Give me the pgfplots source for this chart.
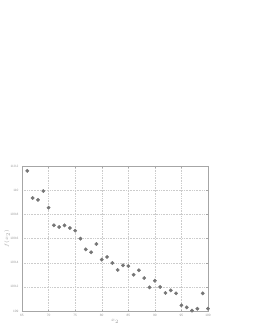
\documentclass[border=0pt]{standalone}
\usepackage{pgfplots}
\pgfplotsset{compat=1.18}
\usepackage{fontspec}
\setmainfont{Liberation Sans}
\begin{document}
\begin{tikzpicture}[x=1pt,y=1pt]
\begin{axis}[
  at={(0,0)}, anchor=south west,
  scale only axis, width=186pt, height=145pt,
  xmin=65, xmax=100, ymin=109, ymax=110.2,
  xtick={65,70,...,100},
  ytick={109,109.2,109.4,109.6,109.8,110,110.2},
  yticklabels={109,109.2,109.4,109.6,109.8,110,110.2},
  grid=major,
  major grid style={gray!40, dash pattern=on 1pt off 1pt on 0.3pt off 1pt, line width=0.3pt},
  axis line style={gray!70, line width=0.4pt},
  tick style={gray!70, line width=0.3pt},
  tick align=inside, major tick length=1.5pt,
  ticklabel style={font=\fontsize{3.2}{3.5}\selectfont, text=gray!80},
  /pgf/number format/assume math mode=true,
  xlabel={$x_2$}, ylabel={$f(x_2)$},
  label style={font=\fontsize{4}{4.5}\selectfont, text=gray!80},
  xlabel style={yshift=4pt},
  ylabel style={yshift=-6pt},
  clip=false,
]
\addplot[only marks, mark=*, mark size=1.7pt, mark options={fill=gray!65!black!80, draw=gray!65!black!80}] coordinates {
(66,110.16) (67,109.935) (68,109.92) (69,109.993) (70,109.855)
(71,109.709) (72,109.695) (73,109.709) (74,109.687) (75,109.665)
(76,109.599) (77,109.51) (78,109.486) (79,109.554) (80,109.425)
(81,109.447) (82,109.397) (83,109.34) (84,109.378) (85,109.372)
(86,109.30) (87,109.337) (88,109.273) (89,109.196) (90,109.251)
(91,109.199) (92,109.149) (93,109.171) (94,109.146) (95,109.047)
(96,109.030) (97,109.003) (98,109.019) (99,109.146) (100,109.019)
};
\end{axis}
\path[use as bounding box] (-22,-16) rectangle (231,311);
\end{tikzpicture}
\end{document}
